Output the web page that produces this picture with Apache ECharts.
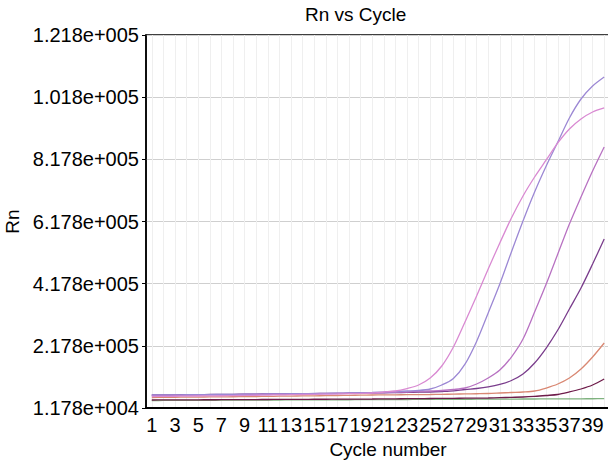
<!DOCTYPE html>
<html>
<head>
<meta charset="utf-8">
<script src="https://cdn.jsdelivr.net/npm/echarts@6/dist/echarts.min.js"></script>
<style>
html,body{margin:0;padding:0;background:#fff;}
#chart{width:608px;height:461px;}
</style>
</head>
<body>
<div id="chart"></div>
<script>
// ---- data ----
const cycles = ['1','2','3','4','5','6','7','8','9','10','11','12','13','14','15','16','17','18','19','20','21','22','23','24','25','26','27','28','29','30','31','32','33','34','35','36','37','38','39','40'];
const yTickLabels = ['1.178e+004','2.178e+005','4.178e+005','6.178e+005','8.178e+005','1.018e+005','1.218e+005'];
const Y_BASE = 11780;   // Rn value at the bottom of the axis
const Y_STEP = 200000;

const wellA = [53600,53800,54100,54400,54700,55000,55300,55600,56000,56400,56800,57200,57600,58000,58500,59000,59600,60300,61100,62000,63300,64900,66500,68100,72900,85800,107000,153000,226000,317400,410700,513700,613400,706700,790400,867600,944800,1005900,1047700,1076700];
const wellB = [48800,49200,49600,50000,50400,50800,51200,51700,52200,52800,53400,54000,54600,55200,55800,56400,57000,57800,58700,60000,63300,66500,74500,85800,108300,146900,208000,288500,372100,459000,542600,623100,693900,755000,809700,864400,909400,941600,964100,977000];
const wellC = [52000,52400,52800,53200,53600,54000,54400,54800,55200,55600,56000,56400,56800,57200,57600,58000,58500,59000,59500,60000,61000,62000,63300,65000,66500,68100,71300,76100,89000,108300,134000,175800,233800,320600,410700,507200,603700,690600,774200,851500];
const wellD = [53600,53900,54300,54600,54900,55300,55600,55900,56300,56600,56900,57300,57600,57900,58300,58600,58900,59300,59600,60000,60600,61300,61900,62600,63300,64900,67000,71300,74500,79400,87400,100300,121200,156600,204800,262700,330300,397800,475000,555500];
const wellE = [45600,45900,46300,46600,47000,47300,47700,48000,48400,48800,49200,49700,50100,50600,51000,51500,52000,52500,53000,53600,53900,54200,54600,54900,55200,55800,56400,57100,57700,58400,60000,61700,63300,66500,76100,89000,108300,137300,175900,220900];
const wellF = [37500,37700,37800,38000,38200,38300,38500,38700,38800,39000,39200,39400,39500,39700,39900,40000,40200,40400,40500,40700,41000,41400,41700,42000,42300,42700,43000,43300,43600,44000,45000,46100,47200,49200,52000,55200,63300,72900,85800,105100];
const wellG = [35900,36000,36200,36300,36500,36600,36800,36900,37100,37200,37400,37500,37700,37800,38000,38100,38300,38400,38600,38700,38900,39000,39200,39300,39500,39600,39800,39900,40100,40200,40400,40500,40700,40800,41000,41100,41300,41400,41600,41700];

const wells = [
  {name:'G', data: wellG, color:'#7fb27f'},
  {name:'F', data: wellF, color:'#6e1c4a'},
  {name:'E', data: wellE, color:'#d98873'},
  {name:'D', data: wellD, color:'#7a3d8c'},
  {name:'C', data: wellC, color:'#b872c2'},
  {name:'A', data: wellA, color:'#9c88d4'},
  {name:'B', data: wellB, color:'#d98ad2'}
];

const FONT = 'Liberation Sans';
const chart = echarts.init(document.getElementById('chart'), null, {renderer:'svg'});
chart.setOption({
  backgroundColor:'#ffffff',
  animation:false,
  title:{
    text:'Rn vs Cycle',
    left:305, top:5, padding:0,
    textStyle:{fontFamily:FONT, fontSize:19, fontWeight:'normal', color:'#000'}
  },
  grid:{left:146, right:-2, top:35, bottom:53, outerBoundsMode:'none', containLabel:false,
        show:true, borderColor:'#000', borderWidth:1.5, backgroundColor:'#fff'},
  xAxis:{
    type:'category', data:cycles, boundaryGap:true,
    name:'Cycle number', nameLocation:'middle', nameGap:24,
    nameTextStyle:{fontFamily:FONT, fontSize:19, color:'#000', padding:[0,0,0,20]},
    axisLine:{show:true, onZero:false, lineStyle:{color:'#000', width:2}},
    axisTick:{show:false, alignWithLabel:true},
    axisLabel:{fontFamily:FONT, fontSize:20, color:'#000', margin:7, interval:1},
    splitLine:{show:true, interval:0, alignWithLabel:true, lineStyle:{color:'#efefef', width:1}}
  },
  yAxis:{
    type:'value', min:0, max:Y_STEP*6, interval:Y_STEP,
    name:'Rn', nameLocation:'middle', nameGap:118,
    nameTextStyle:{fontFamily:FONT, fontSize:19, color:'#000'},
    axisLine:{show:true, lineStyle:{color:'#000', width:1.5}},
    axisTick:{show:true, length:4, lineStyle:{color:'#000'}},
    axisLabel:{
      fontFamily:FONT, fontSize:20, color:'#000', margin:7,
      formatter:function(v){ return yTickLabels[Math.round(v/Y_STEP)]; }
    },
    splitLine:{show:true, lineStyle:{color:'#cfcfcf', width:1}}
  },
  series: wells.map(w => ({
    name:w.name, type:'line', showSymbol:false, symbol:'none', smooth:0.3,
    lineStyle:{color:w.color, width:1.3},
    data: w.data.map(v => v - Y_BASE)
  }))
});
</script>
</body>
</html>
